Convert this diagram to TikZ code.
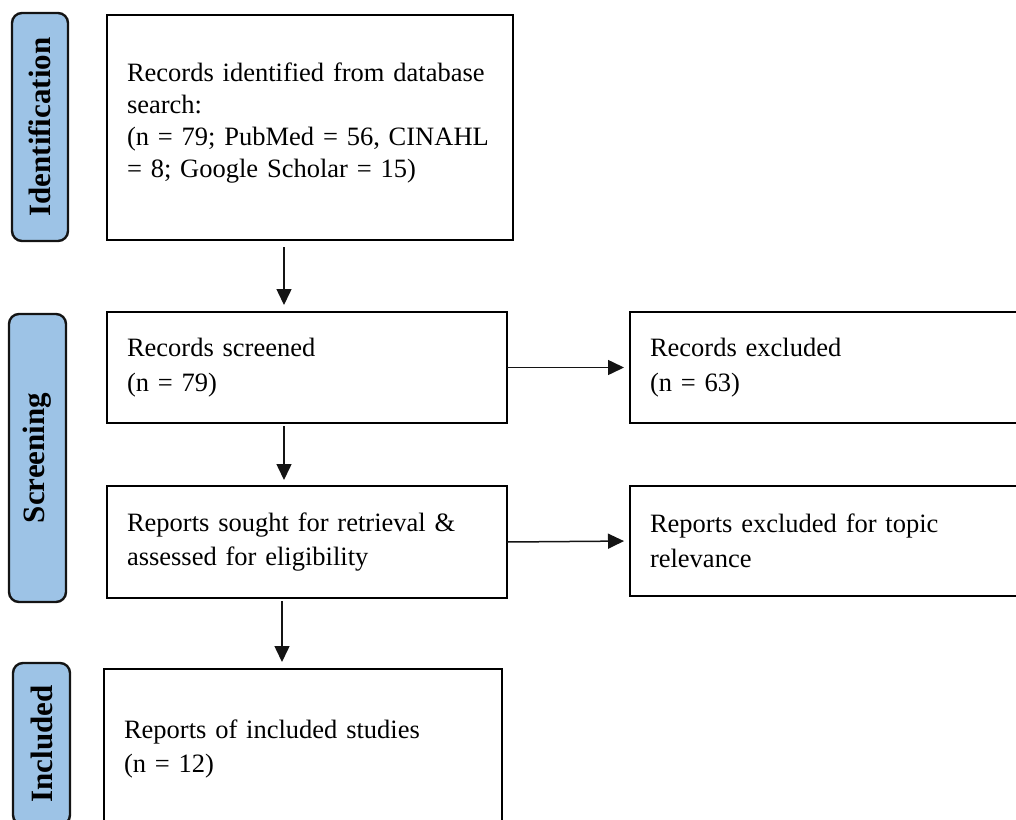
\documentclass[tikz,border=0pt]{standalone}
\usepackage{fontspec}
\setmainfont[WordSpace=0.85]{Liberation Serif}
\usetikzlibrary{arrows.meta}
\definecolor{pillblue}{RGB}{157,195,230}
\definecolor{edgecol}{RGB}{20,20,20}
\begin{document}
\begin{tikzpicture}[x=1pt,y=-1pt,
  box/.style={draw=black, line width=2.6pt, align=left, inner xsep=20pt, inner ysep=0pt,
    outer sep=0pt, anchor=north west, font=\fontsize{26.5}{34.5}\selectfont},
  pill/.style={draw=edgecol, fill=pillblue, line width=2.4pt, rounded corners=10pt,
    rotate=90, inner sep=0pt, outer sep=0pt, font=\fontsize{31}{36}\selectfont\bfseries},
  arr/.style={-{Triangle[length=16pt,width=15pt]}, line width=1.5pt, draw=edgecol}]
\useasboundingbox (0,0) rectangle (1016,819);
\clip (0,0) rectangle (1016,819);
% phase labels
\node[pill, minimum width=228pt, minimum height=56pt] (pid) at (40,127) {Identification};
\node[pill, minimum width=288pt, minimum height=57pt] (psc) at (37.5,458) {Screening};
\node[pill, minimum width=162pt, minimum height=57pt] (pin) at (41.5,744) {Included};
% boxes
\node[box, text width=366pt, minimum width=406pt, minimum height=225pt, text depth=111pt,
  font=\fontsize{26.5}{32}\selectfont] (b1) at (107,15)
  {Records identified from database\\search:\\(n = 79; PubMed = 56, CINAHL\\= 8; Google Scholar = 15)};
\node[box, text width=360pt, minimum width=400pt, minimum height=111pt] (b2) at (107,312)
  {Records screened\\(n = 79)};
\node[box, text width=370pt, minimum width=410pt, minimum height=111pt] (e1) at (630,312)
  {Records excluded\\(n = 63)};
\node[box, text width=360pt, minimum width=400pt, minimum height=112pt] (b3) at (107,486)
  {Reports sought for retrieval \&\\assessed for eligibility};
\node[box, text width=370pt, minimum width=410pt, minimum height=110pt] (e2) at (630,486)
  {Reports excluded for topic\\relevance};
\node[box, text width=358pt, minimum width=398pt, minimum height=160pt] (b4) at (104,669)
  {Reports of included studies\\(n = 12)};
% connectors
\draw[arr, shorten <=7pt, shorten >=7pt] ([xshift=177pt]b1.south west) -- ([xshift=177pt]b2.north west);
\draw[arr, shorten <=3pt, shorten >=6pt] ([xshift=177pt]b2.south west) -- ([xshift=177pt]b3.north west);
\draw[arr, shorten <=3pt, shorten >=7pt] ([xshift=175pt]b3.south west) -- ([xshift=178pt]b4.north west);
\draw[arr, shorten >=6pt] (b2.east) -- (e1.west);
\draw[arr, shorten >=6pt] (b3.east) -- (e2.west);
\end{tikzpicture}
\end{document}
